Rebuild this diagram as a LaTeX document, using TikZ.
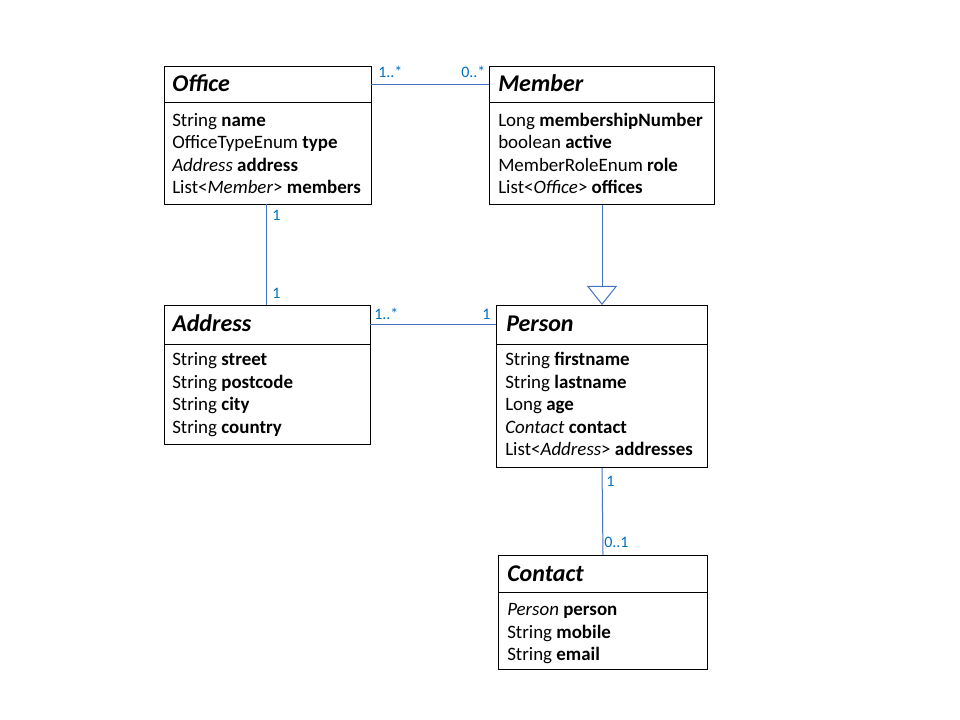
\documentclass[tikz,border=0pt]{standalone}
\usepackage{fontspec}
\setmainfont{Carlito}
\usetikzlibrary{arrows.meta}
\definecolor{linkblue}{HTML}{4472C4}
\definecolor{labblue}{HTML}{0070C0}
\tikzset{
  classbox/.style={draw=black, line width=0.75pt, anchor=north west, inner sep=0pt},
  ctitle/.style={anchor=base west, inner sep=0pt, font=\fontsize{18}{21}\selectfont\bfseries\itshape},
  cattr/.style={anchor=base west, inner sep=0pt, font=\fontsize{14.2}{17}\selectfont},
  link/.style={draw=linkblue, line width=0.75pt},
  mult/.style={anchor=base west, inner sep=0pt, text=labblue, font=\fontsize{12}{14}\selectfont},
}
\newcommand{\attrs}[4]{% name, x, first baseline, list
  \foreach \t [count=\i from 0] in {#4} {
    \node[cattr] (#1\i) at (#2,#3+22.5*\i) {\t};
  }}
\begin{document}
\begin{tikzpicture}[x=0.75pt,y=-0.75pt]
\useasboundingbox (0,0) rectangle (960,720);
% Office
\node[classbox, minimum width=155.25pt, minimum height=103.5pt] (office) at (164,66) {};
\draw[line width=0.75pt] (164,103) -- (371,103);
\node[ctitle] (officeT) at (172,92) {Office};
\attrs{officeA}{172}{126.5}{String \textbf{name},OfficeTypeEnum \textbf{type},\textit{Address} \textbf{address},List<\textit{Member}> \textbf{members}}
% Member
\node[classbox, minimum width=168.75pt, minimum height=103.5pt] (member) at (489,66) {};
\draw[line width=0.75pt] (489,103) -- (714,103);
\node[ctitle] (memberT) at (498,92) {Member};
\attrs{memberA}{498}{126.5}{Long \textbf{membershipNumber},boolean \textbf{active},MemberRoleEnum \textbf{role},List<\textit{Office}> \textbf{offices}}
% Address
\node[classbox, minimum width=154.5pt, minimum height=104.25pt] (address) at (164,305) {};
\draw[line width=0.75pt] (164,344) -- (370,344);
\node[ctitle] (addressT) at (172,331) {Address};
\attrs{addressA}{172}{365.5}{String \textbf{street},String \textbf{postcode},String \textbf{city},String \textbf{country}}
% Person
\node[classbox, minimum width=158.25pt, minimum height=121.5pt] (person) at (496,305) {};
\draw[line width=0.75pt] (496,344) -- (707,344);
\node[ctitle] (personT) at (506,331) {Person};
\attrs{personA}{505}{365.5}{String \textbf{firstname},String \textbf{lastname},Long \textbf{age},\textit{Contact} \textbf{contact},List<\textit{Address}> \textbf{addresses}}
% Contact
\node[classbox, minimum width=156.75pt, minimum height=85.5pt] (contact) at (498,555) {};
\draw[line width=0.75pt] (498,592) -- (707,592);
\node[ctitle] (contactT) at (507,581) {Contact};
\attrs{contactA}{507}{615.5}{\textit{Person} \textbf{person},String \textbf{mobile},String \textbf{email}}
% connectors
\coordinate (om1) at (371,85);
\coordinate (om2) at (489,85);
\draw[link] (om1) -- (om2);
\node[mult] (m1) at (378,78) {1..*};
\node[mult] (m2) at (461,78) {0..*};
\coordinate (oa1) at (266,204);
\coordinate (oa2) at (266,305);
\draw[link] (oa1) -- (oa2);
\node[mult] (m3) at (272,221) {1};
\node[mult] (m4) at (272,298) {1};
\coordinate (ap1) at (370,324);
\coordinate (ap2) at (496,324);
\draw[link] (ap1) -- (ap2);
\node[mult] (m5) at (374,320) {1..*};
\node[mult] (m6) at (482,320) {1};
\draw[link, -{Triangle[open, width=22.5pt, length=14.25pt]}] (member.south) -- (person.north);
\draw[link] (person.south) -- (contact.north);
\node[mult] (m7) at (606,486) {1};
\node[mult] (m8) at (604,547) {0..1};
\end{tikzpicture}
\end{document}
